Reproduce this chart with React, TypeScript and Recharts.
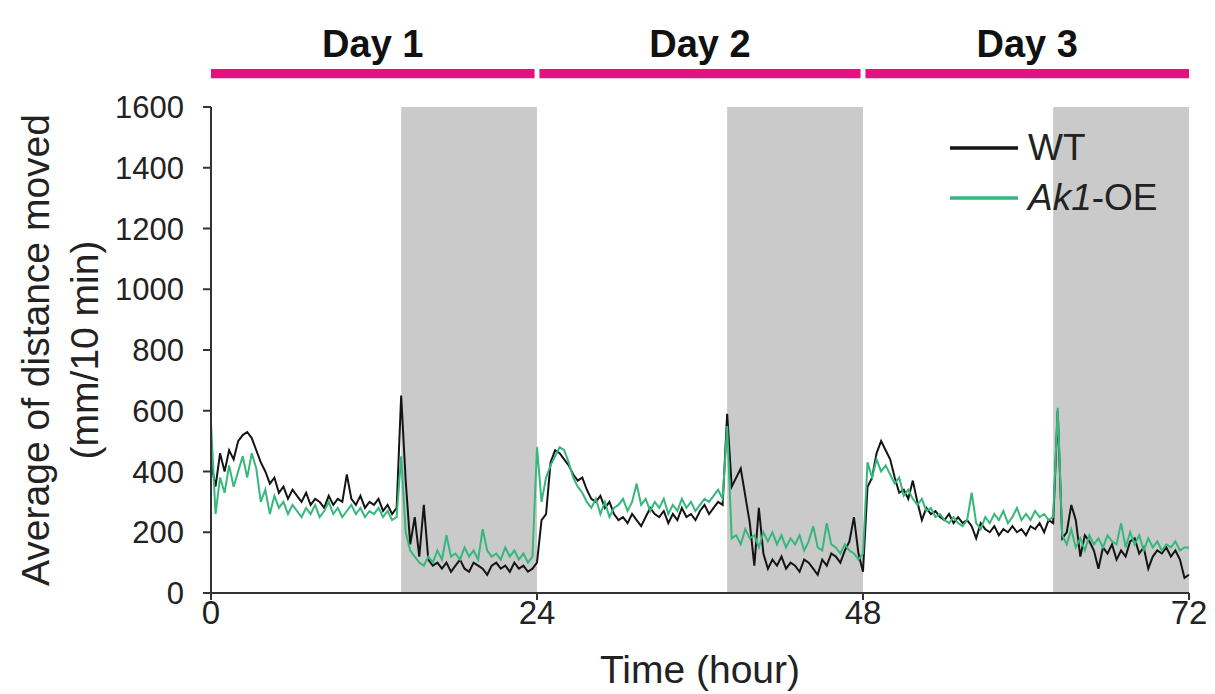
import {
  LineChart,
  Line,
  XAxis,
  YAxis,
  ReferenceArea,
  Legend,
} from "recharts";

// one reading every 20 min, hour 0 .. 72
const STEP_HOURS = 1 / 3;

const wtValues = [
  430, 350, 460,
  400, 470, 440,
  500, 520, 530,
  510, 470, 430,
  400, 360, 380,
  330, 350, 310,
  340, 320, 300,
  330, 290, 310,
  300, 280, 320,
  290, 310, 300,
  390, 310, 290,
  320, 280, 300,
  290, 310, 270,
  290, 260, 280,
  650, 370, 160,
  250, 120, 290,
  110, 90, 100,
  80, 100, 70,
  90, 110, 80,
  70, 100, 90,
  80, 60, 90,
  100, 80, 90,
  70, 100, 80,
  90, 70, 80,
  100, 240, 260,
  430, 470, 460,
  440, 420, 390,
  370, 380, 340,
  310, 300, 320,
  280, 300, 260,
  240, 250, 230,
  260, 240, 220,
  250, 280, 260,
  250, 270, 230,
  260, 240, 280,
  250, 260, 240,
  270, 290, 260,
  280, 300, 290,
  590, 350, 380,
  410, 320, 230,
  90, 280, 130,
  80, 110, 90,
  120, 80, 100,
  90, 70, 110,
  100, 80, 60,
  110, 90, 130,
  120, 100, 140,
  170, 250, 130,
  70, 350, 380,
  460, 500, 470,
  440, 380, 330,
  340, 310, 370,
  300, 240, 280,
  260, 270, 250,
  240, 260, 230,
  250, 230, 240,
  220, 180, 230,
  210, 200, 220,
  190, 210, 200,
  220, 200, 210,
  190, 220, 210,
  230, 200, 240,
  230, 600, 180,
  200, 290, 240,
  120, 190, 170,
  140, 80, 150,
  130, 160, 110,
  140, 120, 170,
  180, 130, 150,
  80, 120, 140,
  130, 150, 120,
  140, 110, 50,
  60,
];

const oeValues = [
  560, 260, 380,
  330, 420, 350,
  400, 450, 380,
  460, 410, 300,
  340, 260, 320,
  280, 300, 260,
  290, 270, 250,
  280, 260, 290,
  250, 270, 300,
  260, 280, 250,
  270, 290, 260,
  280, 250, 270,
  260, 280, 250,
  270, 240, 250,
  450, 200, 140,
  120, 100, 90,
  120, 100, 140,
  110, 190, 120,
  130, 110, 150,
  120, 140, 110,
  210, 140, 120,
  130, 110, 150,
  120, 140, 110,
  130, 100, 120,
  480, 300, 380,
  420, 450, 480,
  470, 430, 380,
  350, 330, 300,
  280, 310, 260,
  300, 250, 280,
  290, 310, 270,
  300, 360, 290,
  310, 270, 300,
  280, 310, 260,
  290, 270, 310,
  280, 300, 270,
  290, 310, 300,
  320, 340, 310,
  550, 180, 190,
  160, 210, 180,
  190, 150, 200,
  170, 200, 160,
  190, 150, 180,
  160, 190, 140,
  170, 220, 150,
  140, 230, 160,
  150, 130, 160,
  140, 130, 110,
  130, 430, 380,
  440, 400, 420,
  390, 360, 380,
  320, 340, 310,
  290, 310, 270,
  280, 250, 260,
  240, 230, 250,
  230, 220, 240,
  330, 230, 210,
  250, 230, 260,
  240, 270, 230,
  250, 280, 240,
  260, 240, 270,
  250, 260, 240,
  250, 610, 190,
  160, 210, 150,
  180, 140, 190,
  160, 180, 150,
  190, 170, 160,
  230, 150, 200,
  160, 190, 140,
  180, 150, 170,
  140, 160, 150,
  170, 140, 150,
  150,
];

const xTicks = [0, 24, 48, 72];
const yTicks = [0, 200, 400, 600, 800, 1000, 1200, 1400, 1600];

// dark phases (hours)
const darkStarts = [14, 38, 62];
const darkEnds = [24, 48, 72];

const dayLabels = ["Day 1", "Day 2", "Day 3"];
const dayStarts = [0, 24.18, 48.18];
const dayEnds = [23.82, 47.82, 72];

const FONT = '"Liberation Sans", Arial, Helvetica, sans-serif';
const GREEN = "#36b77c";
const BLACK = "#141414";
const PINK = "#e2127f";
const AXIS = "#333333";

const data = wtValues.map((v, i) => ({
  t: i * STEP_HOURS,
  wt: v,
  oe: oeValues[i],
}));

function YTitle(props: any) {
  const vb = props.viewBox || { x: 0, y: 107, width: 211, height: 486 };
  const cy = vb.y + vb.height / 2;
  const x1 = 35;
  const x2 = 84;
  return (
    <g fontFamily={FONT} fontSize={39} fill="#222">
      <text
        x={x1}
        y={cy}
        textAnchor="middle"
        dominantBaseline="central"
        transform={`rotate(-90, ${x1}, ${cy})`}
      >
        Average of distance moved
      </text>
      <text
        x={x2}
        y={cy}
        textAnchor="middle"
        dominantBaseline="central"
        transform={`rotate(-90, ${x2}, ${cy})`}
      >
        (mm/10 min)
      </text>
    </g>
  );
}

function LegendBox() {
  const row = (color: string, label: React.ReactNode) => (
    <div style={{ display: "flex", alignItems: "center", height: 50 }}>
      <svg width={68} height={10}>
        <line x1={0} y1={5} x2={68} y2={5} stroke={color} strokeWidth={3.5} />
      </svg>
      <span style={{ marginLeft: 10 }}>{label}</span>
    </div>
  );
  return (
    <div style={{ fontFamily: FONT, fontSize: 37, color: "#222", lineHeight: "50px" }}>
      {row(BLACK, "WT")}
      {row(
        GREEN,
        <>
          <i>Ak1</i>-OE
        </>
      )}
    </div>
  );
}

export default function App() {
  return (
    <div
      style={{
        position: "absolute",
        left: 0,
        top: 0,
        width: 1215,
        height: 694,
        background: "#fff",
      }}
    >
      <LineChart
        width={1215}
        height={694}
        data={data}
        margin={{ top: 107, right: 26, left: 0, bottom: 10 }}
      >
        {darkStarts.map((s, i) => (
          <ReferenceArea
            key={`dark-${i}`}
            x1={s}
            x2={darkEnds[i]}
            y1={0}
            y2={1600}
            fill="#cacaca"
            fillOpacity={1}
            stroke="none"
          />
        ))}
        {dayLabels.map((d, i) => (
          <ReferenceArea
            key={`day-${i}`}
            x1={dayStarts[i]}
            x2={dayEnds[i]}
            y1={1695}
            y2={1725}
            fill={PINK}
            fillOpacity={1}
            stroke="none"
            ifOverflow="visible"
            label={{
              value: d,
              position: "top",
              offset: 12,
              fontFamily: FONT,
              fontSize: 38,
              fontWeight: 700,
              fill: "#111",
            }}
          />
        ))}
        <XAxis
          dataKey="t"
          type="number"
          domain={[0, 72]}
          ticks={xTicks}
          height={91}
          tickSize={7}
          tickMargin={1}
          stroke={AXIS}
          strokeWidth={2}
          tick={{ fontFamily: FONT, fontSize: 33, fill: "#222" }}
          label={{
            value: "Time (hour)",
            position: "insideBottom",
            offset: 1,
            fontFamily: FONT,
            fontSize: 39,
            fill: "#222",
          }}
        />
        <YAxis
          domain={[0, 1600]}
          ticks={yTicks}
          width={211}
          tickSize={8}
          tickMargin={19}
          stroke={AXIS}
          strokeWidth={2}
          tick={{ fontFamily: FONT, fontSize: 31, fill: "#222" }}
          label={{ content: YTitle }}
        />
        <Legend
          layout="vertical"
          align="center"
          verticalAlign="middle"
          content={() => <LegendBox />}
          wrapperStyle={{ left: 950, top: 123, width: 260 }}
        />
        <Line
          type="linear"
          dataKey="wt"
          stroke={BLACK}
          strokeWidth={2}
          dot={false}
          isAnimationActive={false}
        />
        <Line
          type="linear"
          dataKey="oe"
          stroke={GREEN}
          strokeWidth={2}
          dot={false}
          isAnimationActive={false}
        />
      </LineChart>
    </div>
  );
}
